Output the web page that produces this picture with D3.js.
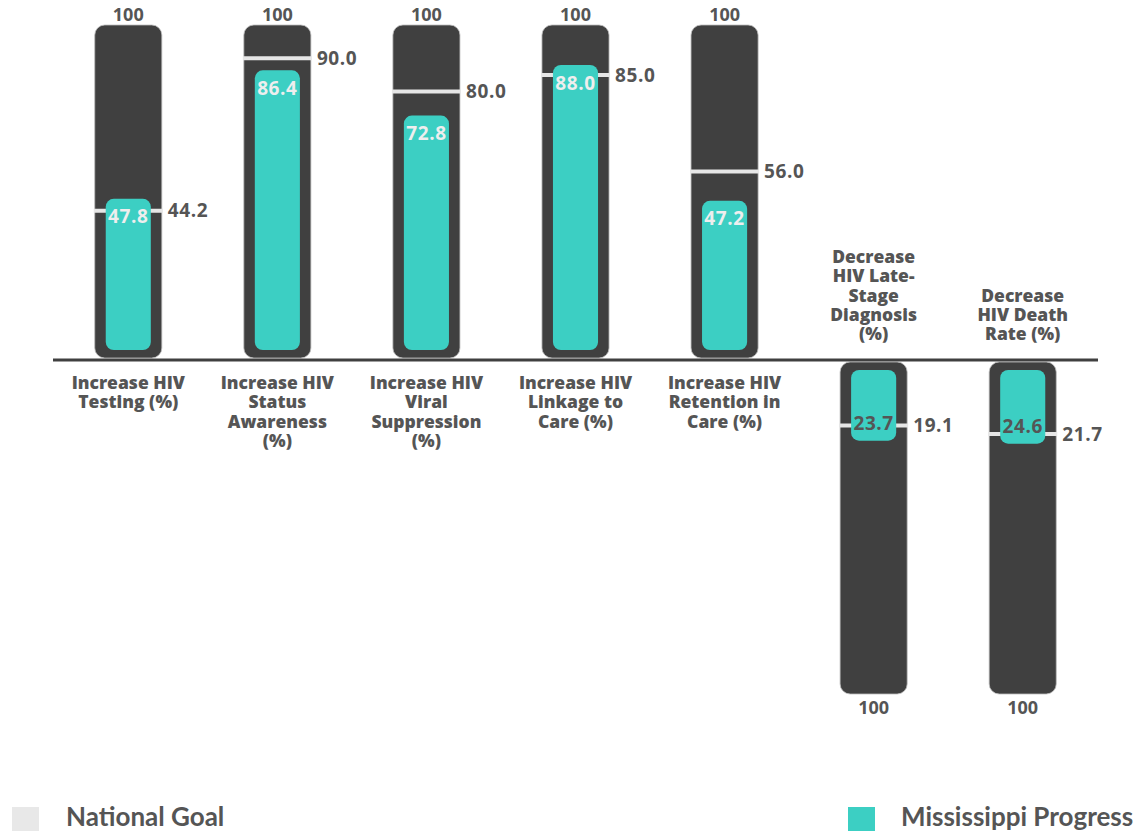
<!DOCTYPE html>
<html lang="en">
<head>
<meta charset="utf-8">
<title>HIV Goals - Mississippi</title>
<script src="https://d3js.org/d3.v7.min.js"></script>
<style>
  body { margin: 0; background: #fff; }
</style>
</head>
<body>
<script>
// chart data
var categories = [
  ["Increase HIV", "Testing (%)"],
  ["Increase HIV", "Status", "Awareness", "(%)"],
  ["Increase HIV", "Viral", "Suppression", "(%)"],
  ["Increase HIV", "Linkage to", "Care (%)"],
  ["Increase HIV", "Retention in", "Care (%)"],
  ["Decrease", "HIV Late-", "Stage", "Diagnosis", "(%)"],
  ["Decrease", "HIV Death", "Rate (%)"]
];
var direction = ["up", "up", "up", "up", "up", "down", "down"];
var nationalGoal = [44.2, 90.0, 80.0, 85.0, 56.0, 19.1, 21.7];
var progress = [47.8, 86.4, 72.8, 88.0, 47.2, 23.7, 24.6];
var maxValue = 100;
var legendLabels = ["National Goal", "Mississippi Progress"];

var w = 1142, h = 831;
var baseY = 360;
var dark = "#404040", teal = "#3ccfc3", goalCol = "#e6e6e6", textCol = "#555555";

var svg = d3.select("body").append("svg")
  .attr("width", w)
  .attr("height", h);

var x = d3.scaleBand()
  .domain(d3.range(categories.length))
  .range([53, 1098])
  .paddingInner(0.55)
  .paddingOuter(0.28);

// upward and downward scales
var yUp = d3.scaleLinear().domain([0, maxValue]).range([baseY - 2, 25]);
var yDown = d3.scaleLinear().domain([0, maxValue]).range([baseY + 2, 694]);

var bw = x.bandwidth();
var inset = 11;

var g = svg.selectAll("g.col")
  .data(categories.map(function(c, i) {
    return { lines: c, dir: direction[i], goal: nationalGoal[i], prog: progress[i], i: i };
  }))
  .enter().append("g").attr("class", "col");

// dark background bars (100)
g.append("rect")
  .attr("x", function(d) { return x(d.i); })
  .attr("y", function(d) { return d.dir == "up" ? yUp(maxValue) : yDown(0); })
  .attr("width", bw)
  .attr("height", function(d) { return d.dir == "up" ? yUp(0) - yUp(maxValue) : yDown(maxValue) - yDown(0); })
  .attr("rx", 10)
  .attr("fill", dark)
  .attr("stroke", "#bdbdbd")
  .attr("stroke-width", 0.8);

// national goal line
g.append("line")
  .attr("x1", function(d) { return x(d.i) - 1; })
  .attr("x2", function(d) { return x(d.i) + bw + 1; })
  .attr("y1", function(d) { return d.dir == "up" ? yUp(d.goal) : yDown(d.goal); })
  .attr("y2", function(d) { return d.dir == "up" ? yUp(d.goal) : yDown(d.goal); })
  .attr("stroke", goalCol)
  .attr("stroke-width", 4);

// progress bars
g.append("rect")
  .attr("x", function(d) { return x(d.i) + inset; })
  .attr("y", function(d) { return d.dir == "up" ? yUp(d.prog) : yDown(0) + 8; })
  .attr("width", bw - inset * 2)
  .attr("height", function(d) { return d.dir == "up" ? yUp(0) - 8 - yUp(d.prog) : yDown(d.prog) - yDown(0) - 8; })
  .attr("rx", 8)
  .attr("fill", teal);

// progress value
g.append("text")
  .attr("x", function(d) { return x(d.i) + bw / 2; })
  .attr("y", function(d) { return d.dir == "up" ? yUp(d.prog) + 18 : yDown(d.prog) - 17; })
  .attr("dy", "0.35em")
  .attr("text-anchor", "middle")
  .attr("font-family", "'Open Sans', sans-serif")
  .attr("font-weight", 700)
  .attr("font-size", 19)
  .attr("letter-spacing", 0.6)
  .attr("fill", function(d) { return d.dir == "up" ? "#eeeeee" : textCol; })
  .text(function(d) { return d.prog.toFixed(1); });

// goal value
g.append("text")
  .attr("x", function(d) { return x(d.i) + bw + 6; })
  .attr("y", function(d) { return d.dir == "up" ? yUp(d.goal) : yDown(d.goal); })
  .attr("dy", "0.35em")
  .attr("font-family", "'Open Sans', sans-serif")
  .attr("font-weight", 700)
  .attr("font-size", 19)
  .attr("letter-spacing", 0.6)
  .attr("fill", textCol)
  .text(function(d) { return d.goal.toFixed(1); });

// 100 label
g.append("text")
  .attr("x", function(d) { return x(d.i) + bw / 2; })
  .attr("y", function(d) { return d.dir == "up" ? yUp(maxValue) - 10 : yDown(maxValue) + 14; })
  .attr("dy", "0.35em")
  .attr("text-anchor", "middle")
  .attr("font-family", "'Open Sans', sans-serif")
  .attr("font-weight", 700)
  .attr("font-size", 18)
  .attr("fill", textCol)
  .text(maxValue);

// category labels
g.each(function(d) {
  var n = d.lines.length;
  var lh = 19.3;
  var startY = d.dir == "up" ? baseY + 23 : baseY - 26 - (n - 1) * lh;
  var t = d3.select(this).append("text")
    .attr("text-anchor", "middle")
    .attr("font-family", "'Open Sans', sans-serif")
    .attr("font-weight", 800)
    .attr("font-size", 17.5)
    .attr("fill", textCol);
  d.lines.forEach(function(line, k) {
    t.append("tspan")
      .attr("x", x(d.i) + bw / 2)
      .attr("y", startY + k * lh)
      .attr("dy", "0.35em")
      .text(line);
  });
});

// baseline
svg.append("line")
  .attr("x1", 53).attr("x2", 1098)
  .attr("y1", baseY).attr("y2", baseY)
  .attr("stroke", dark)
  .attr("stroke-width", 3);

// legend
var legend = [
  { label: legendLabels[0], color: "#e8e8e8", x: 12, tx: 66 },
  { label: legendLabels[1], color: teal, x: 848, tx: 901 }
];
var lg = svg.selectAll("g.legend").data(legend).enter().append("g").attr("class", "legend");
lg.append("rect")
  .attr("x", function(d) { return d.x; })
  .attr("y", 807)
  .attr("width", 27)
  .attr("height", 27)
  .attr("fill", function(d) { return d.color; });
lg.append("text")
  .attr("x", function(d) { return d.tx; })
  .attr("y", 817)
  .attr("dy", "0.35em")
  .attr("font-family", "Lato, sans-serif")
  .attr("font-weight", 700)
  .attr("font-size", 26)
  .attr("fill", textCol)
  .text(function(d) { return d.label; });
</script>
</body>
</html>
